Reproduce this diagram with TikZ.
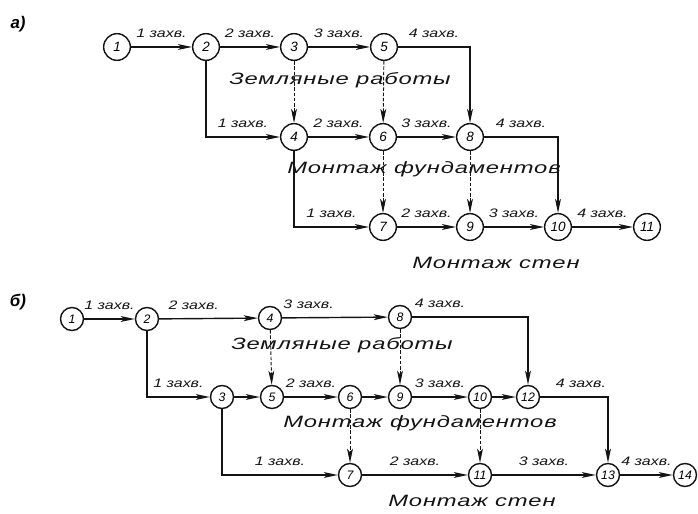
\documentclass[tikz,border=0pt]{standalone}
\usepackage{fontspec}
\setmainfont{Liberation Sans}
\newfontfamily\netfont[FakeStretch=1.3]{Liberation Sans}
\newfontfamily\wideflat[FakeStretch=1.45,LetterSpace=5]{Liberation Sans}
\usetikzlibrary{arrows.meta}
\definecolor{tDark}{RGB}{20, 20, 20}
\newcommand{\numfont}{\fontspec{Liberation Sans}\itshape\fontsize{11.5}{12}\selectfont}
\newcommand{\numfontb}{\fontspec{Liberation Sans}\itshape\fontsize{10.5}{11}\selectfont}
\newcommand{\gripfont}{\netfont\itshape\fontsize{10.5}{11}\selectfont}
\newcommand{\stagefont}{\wideflat\itshape\fontsize{14}{15}\selectfont}

\begin{document}
\begin{tikzpicture}[
    x=0.03cm, y=-0.03cm,
    >={Stealth[length=12pt, width=5pt, inset=3pt]},
    event/.style={
        circle,
        draw=tDark,
        line width=1.2pt,
        inner sep=0pt,
        minimum size=0.8cm,
        font=\numfont
    },
    event small/.style={event, minimum size=0.69cm, font=\numfontb},
    work/.style={->, line width=1.2pt, color=tDark},
    dep/.style={->, line width=0.8pt, dash pattern=on 3pt off 1.5pt, color=tDark},
    grip/.style={font=\gripfont, text=tDark, above=7pt, inner sep=0pt},
    stage/.style={font=\stagefont, text=tDark, inner sep=0pt}
]

\useasboundingbox (0,0) rectangle (698,514);

% a) -- three jobs, one after the other
\node[font=\bfseries\itshape\Large] (capA) at (18,24) {а)};

\node[event] (a1) at (117,47) {1};
\node[event] (a2) at (206,47) {2};
\node[event] (a3) at (294,47) {3};
\node[event] (a5) at (384,47) {5};

\node[event] (a4) at (294,137) {4};
\node[event] (a6) at (383,137) {6};
\node[event] (a8) at (470,137) {8};

\node[event] (a7) at (383,227) {7};
\node[event] (a9) at (470,227) {9};
\node[event] (a10) at (558,227) {10};
\node[event] (a11) at (647,227) {11};

\node[stage] (earthA) at (340,80) {Земляные работы};
\node[stage] (foundA) at (424,169) {Монтаж фундаментов};
\node[stage] (wallsA) at (496,263) {Монтаж стен};

\draw[work] (a1) -- node[grip] (ga12) {1 захв.} (a2);
\draw[work] (a2) -- node[grip] (ga23) {2 захв.} (a3);
\draw[work] (a3) -- node[grip] (ga35) {3 захв.} (a5);
\draw[work] (a5) -| node[grip, pos=0.25] (ga58) {4 захв.} (a8);

\draw[work] (a2) |- node[grip, pos=0.75] (ga24) {1 захв.} (a4);
\draw[work] (a4) -- node[grip] (ga46) {2 захв.} (a6);
\draw[work] (a6) -- node[grip] (ga68) {3 захв.} (a8);
\draw[work] (a8) -| node[grip, pos=0.25] (ga810) {4 захв.} (a10);

\draw[work] (a4) |- node[grip, pos=0.75] (ga47) {1 захв.} (a7);
\draw[work] (a7) -- node[grip] (ga79) {2 захв.} (a9);
\draw[work] (a9) -- node[grip] (ga910) {3 захв.} (a10);
\draw[work] (a10) -- node[grip] (ga1011) {4 захв.} (a11);

\draw[dep] (a3) -- (a4);
\draw[dep] (a5) -- (a6);
\draw[dep] (a6) -- (a7);
\draw[dep] (a8) -- (a9);

% b) -- jobs overlapped
\node[font=\bfseries\itshape\Large] (capB) at (18,302) {б)};

\node[event small] (b1) at (72,319) {1};
\node[event small] (b2) at (147,319) {2};
\node[event small] (b4) at (270,318) {4};
\node[event small] (b8) at (400,317) {8};

\node[event small] (b3) at (222,397) {3};
\node[event small] (b5) at (272,397) {5};
\node[event small] (b6) at (350,397) {6};
\node[event small] (b9) at (400,397) {9};
\node[event small] (b10) at (480,397) {10};
\node[event small] (b12) at (528,397) {12};

\node[event small] (b7) at (350,475) {7};
\node[event small] (b11) at (480,475) {11};
\node[event small] (b13) at (608,475) {13};
\node[event small] (b14) at (685,475) {14};

\node[stage] (earthB) at (342,345) {Земляные работы};
\node[stage] (foundB) at (420,423) {Монтаж фундаментов};
\node[stage] (wallsB) at (472,501) {Монтаж стен};

\draw[work] (b1) -- node[grip] (gb12) {1 захв.} (b2);
\draw[work] (b2) -- node[grip, pos=0.35] (gb24) {2 захв.} (b4);
\draw[work] (b4) -- node[grip, pos=0.25] (gb48) {3 захв.} (b8);
\draw[work] (b8) -| node[grip, pos=0.12] (gb812) {4 захв.} (b12);

\draw[work] (b2) |- node[grip, pos=0.75] (gb23) {1 захв.} (b3);
\draw[work] (b3) -- (b5);
\draw[work] (b5) -- node[grip] (gb56) {2 захв.} (b6);
\draw[work] (b6) -- (b9);
\draw[work] (b9) -- node[grip] (gb910) {3 захв.} (b10);
\draw[work] (b10) -- (b12);
\draw[work] (b12) -| node[grip, pos=0.3] (gb1213) {4 захв.} (b13);

\draw[work] (b3) |- node[grip, pos=0.75] (gb37) {1 захв.} (b7);
\draw[work] (b7) -- node[grip] (gb711) {2 захв.} (b11);
\draw[work] (b11) -- node[grip] (gb1113) {3 захв.} (b13);
\draw[work] (b13) -- node[grip] (gb1314) {4 захв.} (b14);

\draw[dep] (b4) -- (b5);
\draw[dep] (b8) -- (b9);
\draw[dep] (b6) -- (b7);
\draw[dep] (b10) -- (b11);

\end{tikzpicture}
\end{document}
